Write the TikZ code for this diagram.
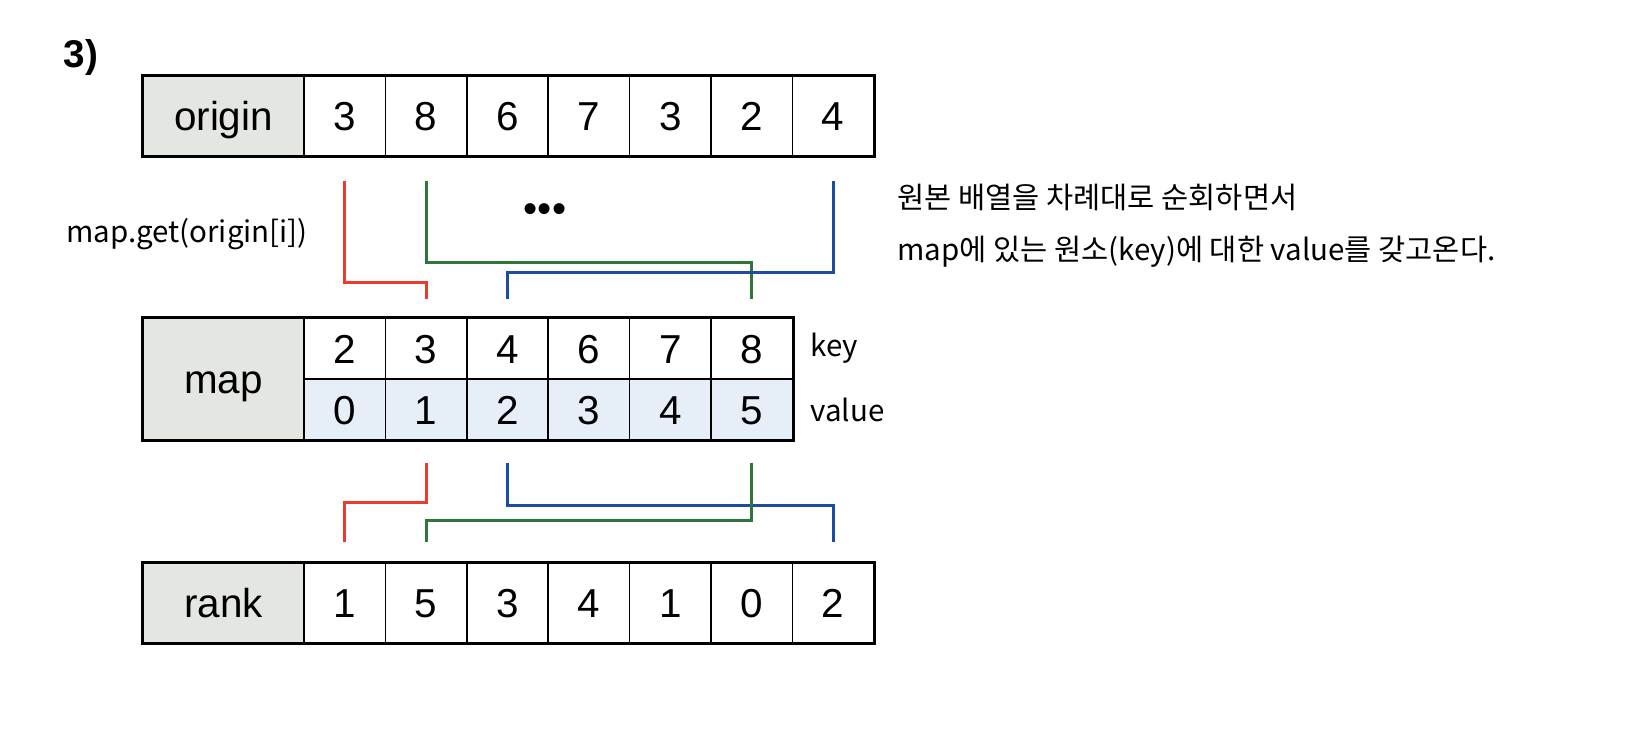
\documentclass[tikz,border=0pt]{standalone}
\usepackage{fontspec}
\setmainfont{Liberation Sans}
\newfontfamily\krfont{Noto Sans CJK KR}
\usetikzlibrary{positioning}
\definecolor{headgray}{HTML}{E3E6E1}
\definecolor{valblue}{HTML}{E6EEF8}
\definecolor{lred}{HTML}{EA3B2C}
\definecolor{lgreen}{HTML}{2E763A}
\definecolor{lblue}{HTML}{1F4CA3}
\tikzset{
  cell/.style={draw, line width=0.8pt, minimum width=1.628cm, minimum height=1.6cm, inner sep=0pt,
    text height=16.5pt, text depth=0pt, font=\fontsize{23}{27}\selectfont},
  halfcell/.style={cell, minimum height=1.22cm},
  head/.style={cell, fill=headgray, minimum width=3.22cm},
  outer/.style={line width=1.7pt},
  link/.style={line width=1.7pt, shorten <=0.48cm, shorten >=0.36cm},
  linkb/.style={line width=1.7pt, shorten <=0.44cm, shorten >=0.4cm},
  note/.style={font=\krfont\fontsize{16.8}{20}\selectfont, inner sep=0pt}
}
\begin{document}
\begin{tikzpicture}[x=0.02cm, y=-0.02cm, line join=miter]
\useasboundingbox (0,0) rectangle (1638,730);
\node[font=\bfseries\fontsize{22}{26}\selectfont] (num) at (81,58) {3)};
% origin
\node[head] (ohead) at (223.5,116) {origin};
\foreach \v [count=\i] in {3,8,6,7,3,2,4}
  \node[cell] (o\i) at ({263.3+81.4*\i},116) {\v};
\draw[outer] (ohead.north west) rectangle (o7.south east);
% map
\node[head, minimum height=2.44cm] (mhead) at (223.5,379) {map};
\foreach \k/\v [count=\i] in {2/0,3/1,4/2,6/3,7/4,8/5}{
  \node[halfcell] (k\i) at ({263.3+81.4*\i},348.5) {\k};
  \node[halfcell, fill=valblue] (v\i) at ({263.3+81.4*\i},409.5) {\v};
}
\draw[outer] (mhead.north west) rectangle (v6.south east);
\node[note, right=0.34cm of k6] (keylab) {key};
\node[note, right=0.34cm of v6] (vallab) {value};
% rank
\node[head] (rhead) at (223.5,603) {rank};
\foreach \v [count=\i] in {1,5,3,4,1,0,2}
  \node[cell] (r\i) at ({263.3+81.4*\i},603) {\v};
\draw[outer] (rhead.north west) rectangle (r7.south east);
% origin -> map
\draw[link, lred] (o1.south) -- ++(0,126) -| (k2.north);
\draw[link, lgreen] (o2.south) -- ++(0,106) -| (k6.north);
\draw[link, lblue] (o7.south) -- ++(0,116) -| (k3.north);
% map -> rank
\draw[linkb, lred] (v2.south) -- ++(0,62) -| (r1.north);
\draw[linkb, lblue] (v3.south) -- ++(0,65) -| (r7.north);
\draw[linkb, lgreen] (v6.south) -- ++(0,80) -| (r2.north);
\node[font=\fontsize{23}{27}\selectfont] (dots) at (545,213) {\textbullet\textbullet\textbullet};
\node[note] (getlab) at (187,234) {map.get(origin[i])};
\node[note, anchor=west] (desc1) at (897,197) {원본 배열을 차례대로 순회하면서};
\node[note, anchor=west] (desc2) at (897,252) {map에 있는 원소(key)에 대한 value를 갖고온다.};
\end{tikzpicture}
\end{document}
